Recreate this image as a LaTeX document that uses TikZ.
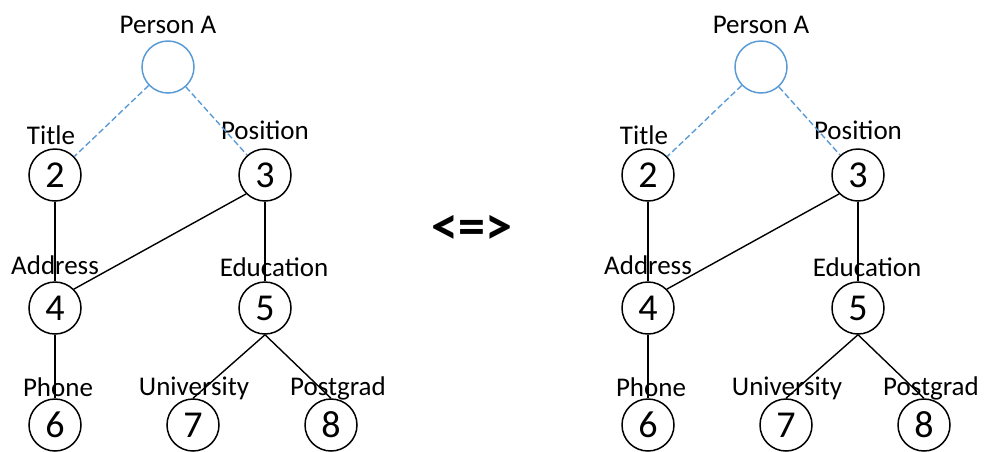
\documentclass[tikz,border=0pt]{standalone}
\usepackage{fontspec}
\setmainfont{Carlito}
\definecolor{linkblue}{HTML}{5B9BD5}
\tikzset{
  vert/.style={circle, draw=black, line width=1.5pt, minimum size=52pt, inner sep=0pt, font=\fontsize{38}{40}\selectfont},
  rootvert/.style={vert, draw=linkblue},
  lbl/.style={anchor=base, inner sep=0pt, font=\fontsize{27}{30}\selectfont},
  edge/.style={line width=1.4pt},
  link/.style={draw=linkblue, line width=1.4pt, dash pattern=on 6pt off 3pt},
}
\begin{document}
\begin{tikzpicture}[x=1pt, y=-1pt]
  \useasboundingbox (0,0) rectangle (985,451);
  \foreach \p/\dx in {L/0, R/593} {
    \begin{scope}[xshift=\dx pt, name prefix=\p-]
      % vertices
      \node[rootvert] (a) at (168,67) {};
      \node[vert] (n2) at (55,175) {2};
      \node[vert] (n3) at (265,175) {3};
      \node[vert] (n4) at (55,308) {4};
      \node[vert] (n5) at (265,308) {5};
      \node[vert] (n6) at (55,425) {6};
      \node[vert] (n7) at (193,425) {7};
      \node[vert] (n8) at (331,425) {8};
      % labels
      \node[lbl] (ta) at (168,33) {Person A};
      \node[lbl] (t2) at (51,144) {Title};
      \node[lbl] (t3) at (265,139) {Position};
      \node[lbl] (t4) at (55,274) {Address};
      \node[lbl] (t5) at (274,276) {Education};
      \node[lbl] (t6) at (58,396) {Phone};
      \node[lbl] (t7) at (194,395) {University};
      \node[lbl] (t8) at (338,395) {Postgrad};
      % connectors
      \draw[link] (a) -- (n2);
      \draw[link] (a) -- (n3);
      \draw[edge] (n2) -- (n4);
      \draw[edge] (n4) -- (n6);
      \draw[edge] (n3) -- (n5);
      \draw[edge] (n3.south west) -- (n4.north east);
      \draw[edge] (n5.south) -- (n7.north);
      \draw[edge] (n5.south) -- (n8.north);
    \end{scope}
  }
  \node[font=\fontsize{54}{58}\selectfont\bfseries] (eq) at (472,230) {<=>};
\end{tikzpicture}
\end{document}
